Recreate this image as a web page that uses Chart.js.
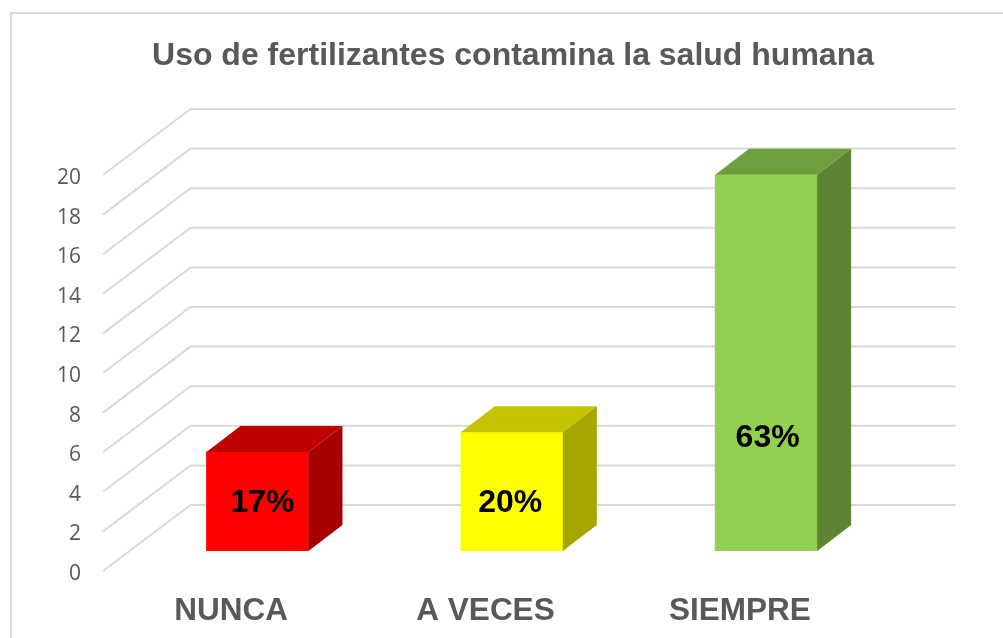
<!DOCTYPE html>
<html>
<head>
<meta charset="utf-8">
<style>
  html, body { margin: 0; padding: 0; background: #fff; }
  canvas { display: block; }
</style>
<script src="https://cdn.jsdelivr.net/npm/chart.js@4"></script>
</head>
<body>
<canvas id="chart" width="1003" height="638"></canvas>
<script>
const chartTitle = "Uso de fertilizantes contamina la salud humana";
const categories = ["NUNCA", "A VECES", "SIEMPRE"];
const counts = [5, 6, 19];
const percentLabels = ["17%", "20%", "63%"];
const frontColors = ["#ff0000", "#ffff00", "#92d050"];
const topColors = ["#c00000", "#c4c400", "#6f9e3d"];
const sideColors = ["#a60000", "#a6a600", "#5e8332"];
// the percent labels were moved by hand in the original
const labelNudgeX = [5, -1.5, 1.5];
const labelNudgeY = [2, 12, 75];

const GRID = "#d9d9d9";
const GRAY = "#595959";
// floor depth of the fake 3D box, and where the bars stand in it
const WALL_X = 87, WALL_Y = 66;
const BAR_SHIFT_X = 26.3, BAR_SHIFT_Y = 20;
const BAR_DEPTH_X = 34, BAR_DEPTH_Y = 26;

function face(ctx, color, pts) {
    ctx.fillStyle = color;
    ctx.beginPath();
    pts.forEach((p, i) => i ? ctx.lineTo(p[0], p[1]) : ctx.moveTo(p[0], p[1]));
    ctx.closePath();
    ctx.fill();
}

const box3d = {
    id: "box3d",
    beforeDraw(chart) {
        // outer frame, only left and top are inside the picture
        const ctx = chart.ctx;
        ctx.save();
        ctx.strokeStyle = GRID;
        ctx.lineWidth = 2;
        ctx.beginPath();
        ctx.moveTo(11, chart.height);
        ctx.lineTo(11, 13);
        ctx.lineTo(chart.width, 13);
        ctx.stroke();
        ctx.restore();
    },
    beforeDatasetsDraw(chart) {
        const ctx = chart.ctx, y = chart.scales.y, area = chart.chartArea;
        ctx.save();
        ctx.strokeStyle = GRID;
        ctx.lineWidth = 2;
        y.ticks.forEach(t => {
            const py = y.getPixelForValue(t.value);
            ctx.beginPath();
            ctx.moveTo(area.left - 1, py);
            ctx.lineTo(area.left + WALL_X - 0.5, py - WALL_Y);
            ctx.lineTo(area.right + WALL_X + 1.5, py - WALL_Y);
            ctx.stroke();
        });
        ctx.restore();
        // bars stand in the middle of the floor
        ctx.save();
        ctx.translate(BAR_SHIFT_X, -BAR_SHIFT_Y);
    },
    afterDatasetsDraw(chart) {
        const ctx = chart.ctx;
        const bars = chart.getDatasetMeta(0).data;
        bars.forEach((bar, i) => {
            const l = bar.x - bar.width / 2, r = bar.x + bar.width / 2;
            face(ctx, topColors[i], [[l, bar.y], [r, bar.y], [r + BAR_DEPTH_X, bar.y - BAR_DEPTH_Y], [l + BAR_DEPTH_X, bar.y - BAR_DEPTH_Y]]);
            face(ctx, sideColors[i], [[r, bar.y], [r + BAR_DEPTH_X, bar.y - BAR_DEPTH_Y], [r + BAR_DEPTH_X, bar.base - BAR_DEPTH_Y], [r, bar.base]]);
        });
        // percent labels
        ctx.fillStyle = "#000";
        ctx.font = "bold 32px 'Liberation Sans'";
        ctx.textAlign = "center";
        ctx.textBaseline = "middle";
        bars.forEach((bar, i) => {
            ctx.fillText(percentLabels[i], bar.x + labelNudgeX[i], (bar.y + bar.base) / 2 + labelNudgeY[i]);
        });
        ctx.restore();
    }
};

new Chart(document.getElementById("chart"), {
    type: "bar",
    data: {
        labels: categories,
        datasets: [{
            data: counts,
            backgroundColor: frontColors,
            barThickness: 102,
            borderWidth: 0
        }]
    },
    options: {
        responsive: false,
        animation: false,
        layout: { padding: { left: 23, right: 0, top: 0, bottom: 0 } },
        plugins: {
            legend: { display: false },
            tooltip: { enabled: false },
            title: {
                display: true,
                text: chartTitle,
                color: GRAY,
                font: { family: "'Liberation Sans'", size: 32, weight: "bold", lineHeight: 1.2 },
                padding: { top: 36.5, bottom: 100.1 }
            }
        },
        scales: {
            x: {
                grid: { display: false },
                border: { display: false },
                ticks: {
                    color: GRAY,
                    padding: 13,
                    maxRotation: 0,
                    font: { family: "'Liberation Sans'", size: 31.5, weight: "bold" }
                },
                afterFit(axis) { axis.height = 67; }
            },
            y: {
                min: 0,
                max: 20,
                grid: { display: false, drawTicks: false },
                border: { display: false },
                ticks: {
                    stepSize: 2,
                    color: GRAY,
                    padding: 23,
                    labelOffset: 3,
                    font: { family: "'Open Sans'", size: 21 }
                },
                afterFit(axis) { axis.width = 81; }
            },
            // empty axis, only keeps the room on the right of the bars
            spacer: {
                position: "right",
                grid: { display: false },
                border: { display: false },
                ticks: { display: false },
                afterFit(axis) { axis.width = 136; }
            }
        }
    },
    plugins: [box3d]
});
</script>
</body>
</html>
